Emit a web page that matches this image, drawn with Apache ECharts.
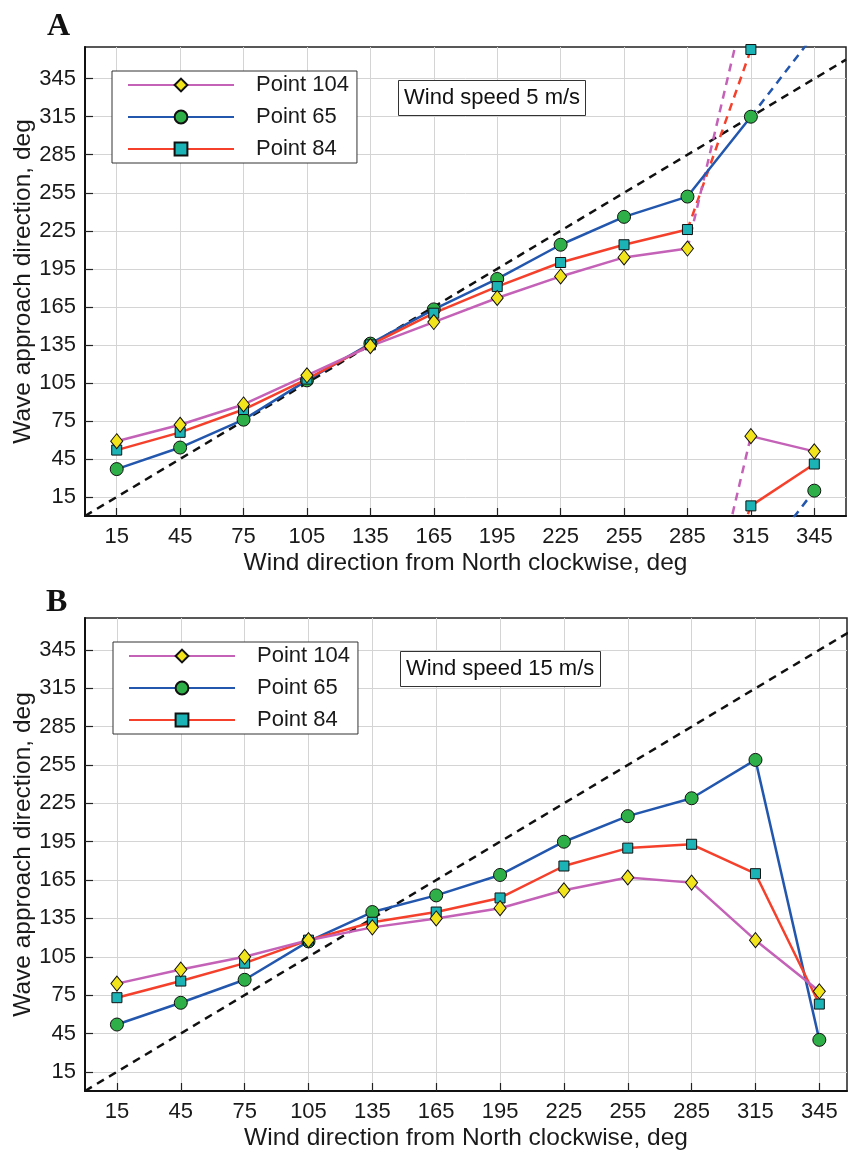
<!DOCTYPE html>
<html lang="en">
<head>
<meta charset="UTF-8">
<title>Wave approach direction vs wind direction</title>
<script src="https://cdn.jsdelivr.net/npm/echarts@6/dist/echarts.min.js"></script>
<style>
  html, body { margin: 0; padding: 0; background: #fff; }
  #main { width: 848px; height: 1152px; }
</style>
</head>
<body>
<div id="main"></div>
<script>
// wind direction from North (x), same for both panels
var windDir = [15, 45, 75, 105, 135, 165, 195, 225, 255, 285, 315, 345];
var tickVals = [15, 45, 75, 105, 135, 165, 195, 225, 255, 285, 315, 345];
var diagonal = [0, 360];

// panel A - wind speed 5 m/s
var a104 = [59, 72, 88, 111, 134, 153, 172, 189, 204, 211, 63, 51];
var a65  = [37, 54, 76, 107, 136, 163, 187, 214, 236, 252, 315, 20];
var a84  = [52, 66, 84, 108, 135, 160, 181, 200, 214, 226, 8, 41];
// index after which the direction passes 360 deg (-1 = no wrap)
var aWrap = { p104: 9, p65: 10, p84: 9 };

// panel B - wind speed 15 m/s
var b104 = [84, 95, 105, 118, 128, 135, 143, 157, 167, 163, 118, 78];
var b65  = [52, 69, 87, 117, 140, 153, 169, 195, 215, 229, 259, 40];
var b84  = [73, 86, 100, 118, 132, 140, 151, 176, 190, 193, 170, 68];
var bWrap = { p104: -1, p65: -1, p84: -1 };

var ff = "'Liberation Sans', Arial, Helvetica, sans-serif";
var txt = '#1a1a1a';
var yMax = 370;

var styles = {
    p104: { name: 'Point 104', line: '#c462b8', fill: '#f2e41c', symbol: 'diamond', size: [12, 15] },
    p65:  { name: 'Point 65',  line: '#2357ae', fill: '#2eaf48', symbol: 'circle',  size: 13 },
    p84:  { name: 'Point 84',  line: '#f5402c', fill: '#1bb3b5', symbol: 'rect',    size: 10 }
};

function pairs(vals, from, to) {
    var out = [];
    for (var i = from; i <= to; i++) out.push([windDir[i], vals[i]]);
    return out;
}

function solidSeries(key, vals, wrap, gi) {
    var s = styles[key];
    var parts = wrap < 0 ? [[0, vals.length - 1]] : [[0, wrap], [wrap + 1, vals.length - 1]];
    return parts.map(function (p) {
        return {
            name: s.name, type: 'line', xAxisIndex: gi, yAxisIndex: gi,
            data: pairs(vals, p[0], p[1]),
            symbol: s.symbol, symbolSize: s.size,
            lineStyle: { color: s.line, width: 2.5 },
            itemStyle: { color: s.fill, borderColor: '#111', borderWidth: 1 },
            z: 3
        };
    });
}

// dashed continuation across the 360/0 jump
function wrapSeries(key, vals, wrap, gi) {
    if (wrap < 0) return [];
    var s = styles[key];
    var x0 = windDir[wrap], x1 = windDir[wrap + 1];
    var upEnd = vals[wrap + 1] + 360;
    var common = {
        type: 'line', xAxisIndex: gi, yAxisIndex: gi, clip: true,
        symbol: s.symbol, symbolSize: s.size,
        lineStyle: { color: s.line, width: 2.5, type: [8, 6] },
        itemStyle: { color: s.fill, borderColor: '#111', borderWidth: 1 },
        z: 2
    };
    return [
        Object.assign({}, common, {
            name: s.name + ' wrap up',
            data: [
                { value: [x0, vals[wrap]], symbol: 'none' },
                { value: [x1, upEnd], symbol: upEnd <= yMax ? s.symbol : 'none' }
            ]
        }),
        Object.assign({}, common, {
            name: s.name + ' wrap down',
            showSymbol: false,
            data: [[x0, vals[wrap] - 360], [x1, vals[wrap + 1]]]
        })
    ];
}

function diagSeries(gi) {
    return {
        name: 'equal', type: 'line', xAxisIndex: gi, yAxisIndex: gi,
        data: diagonal.map(function (v) { return [v, v]; }),
        symbol: 'none', lineStyle: { color: '#111', width: 2.5, type: [8, 6] }, z: 1
    };
}

function xAxisFor(gi, max) {
    return {
        type: 'value', gridIndex: gi, min: 0, max: max,
        name: 'Wind direction from North clockwise, deg', nameLocation: 'middle',
        nameGap: 35, nameMoveOverlap: false,
        nameTextStyle: { fontSize: 24.5, color: txt, fontFamily: ff },
        axisLine: { show: true, onZero: false, lineStyle: { color: '#111', width: 2 } },
        axisTick: { show: true, inside: true, length: 8, customValues: tickVals, lineStyle: { color: '#222', width: 1.2 } },
        axisLabel: { customValues: tickVals, margin: 10, fontSize: 22, color: txt, fontFamily: ff },
        splitLine: { show: true, lineStyle: { color: '#d4d4d4', width: 1 } }
    };
}

function yAxisFor(gi) {
    return {
        type: 'value', gridIndex: gi, min: 0, max: yMax,
        name: 'Wave approach direction, deg', nameLocation: 'middle',
        nameGap: 49, nameMoveOverlap: false,
        nameTextStyle: { fontSize: 24.5, color: txt, fontFamily: ff },
        axisLine: { show: true, onZero: false, lineStyle: { color: '#111', width: 2 } },
        axisTick: { show: true, inside: true, length: 8, customValues: tickVals, lineStyle: { color: '#222', width: 1.2 } },
        axisLabel: { customValues: tickVals, margin: 9, fontSize: 22, color: txt, fontFamily: ff },
        splitLine: { show: true, lineStyle: { color: '#d4d4d4', width: 1 } }
    };
}

function legendAt(left, top) {
    return {
        left: left, top: top, orient: 'vertical', selectedMode: false,
        data: ['Point 104', 'Point 65', 'Point 84'],
        itemWidth: 106, itemHeight: 16, itemGap: 10,
        padding: [3, 8, 3, 15],
        borderColor: '#333', borderWidth: 1, backgroundColor: '#fff',
        textStyle: { fontSize: 22, color: txt, fontFamily: ff, padding: [0, 0, 0, 17] }
    };
}

function boxTitle(text, left, top) {
    return {
        text: text, left: left, top: top, padding: [7, 6, 7, 6],
        borderColor: '#333', borderWidth: 1, backgroundColor: '#fff',
        textStyle: { fontSize: 22, fontWeight: 'normal', color: '#111', fontFamily: ff, lineHeight: 22 }
    };
}

function letter(text, left, top) {
    return {
        text: text, left: left, top: top, padding: 0,
        textStyle: { fontSize: 32, fontWeight: 'bold', color: '#111', fontFamily: "'Liberation Serif', 'Times New Roman', serif" }
    };
}

var series = [diagSeries(0), diagSeries(1)]
    .concat(wrapSeries('p65', a65, aWrap.p65, 0), wrapSeries('p84', a84, aWrap.p84, 0), wrapSeries('p104', a104, aWrap.p104, 0))
    .concat(solidSeries('p65', a65, aWrap.p65, 0), solidSeries('p84', a84, aWrap.p84, 0), solidSeries('p104', a104, aWrap.p104, 0))
    .concat(solidSeries('p65', b65, bWrap.p65, 1), solidSeries('p84', b84, bWrap.p84, 1), solidSeries('p104', b104, bWrap.p104, 1));

var myChart = echarts.init(document.getElementById('main'), null, { renderer: 'canvas' });

var option = {
    animation: false,
    backgroundColor: '#fff',
    title: [
        letter('A', 47, 11),
        letter('B', 46, 587),
        boxTitle('Wind speed 5 m/s', 398, 80),
        boxTitle('Wind speed 15 m/s', 400, 651)
    ],
    legend: [legendAt(112, 71), legendAt(113, 642)],
    grid: [
        { left: 85, top: 47, width: 761, height: 469, show: true, borderColor: '#222', borderWidth: 1.5,
          containLabel: false, outerBoundsMode: 'none' },
        { left: 85, top: 618, width: 762, height: 473, show: true, borderColor: '#222', borderWidth: 1.5,
          containLabel: false, outerBoundsMode: 'none' }
    ],
    xAxis: [xAxisFor(0, 360), xAxisFor(1, 358)],
    yAxis: [yAxisFor(0), yAxisFor(1)],
    series: series
};

myChart.setOption(option);
</script>
</body>
</html>
